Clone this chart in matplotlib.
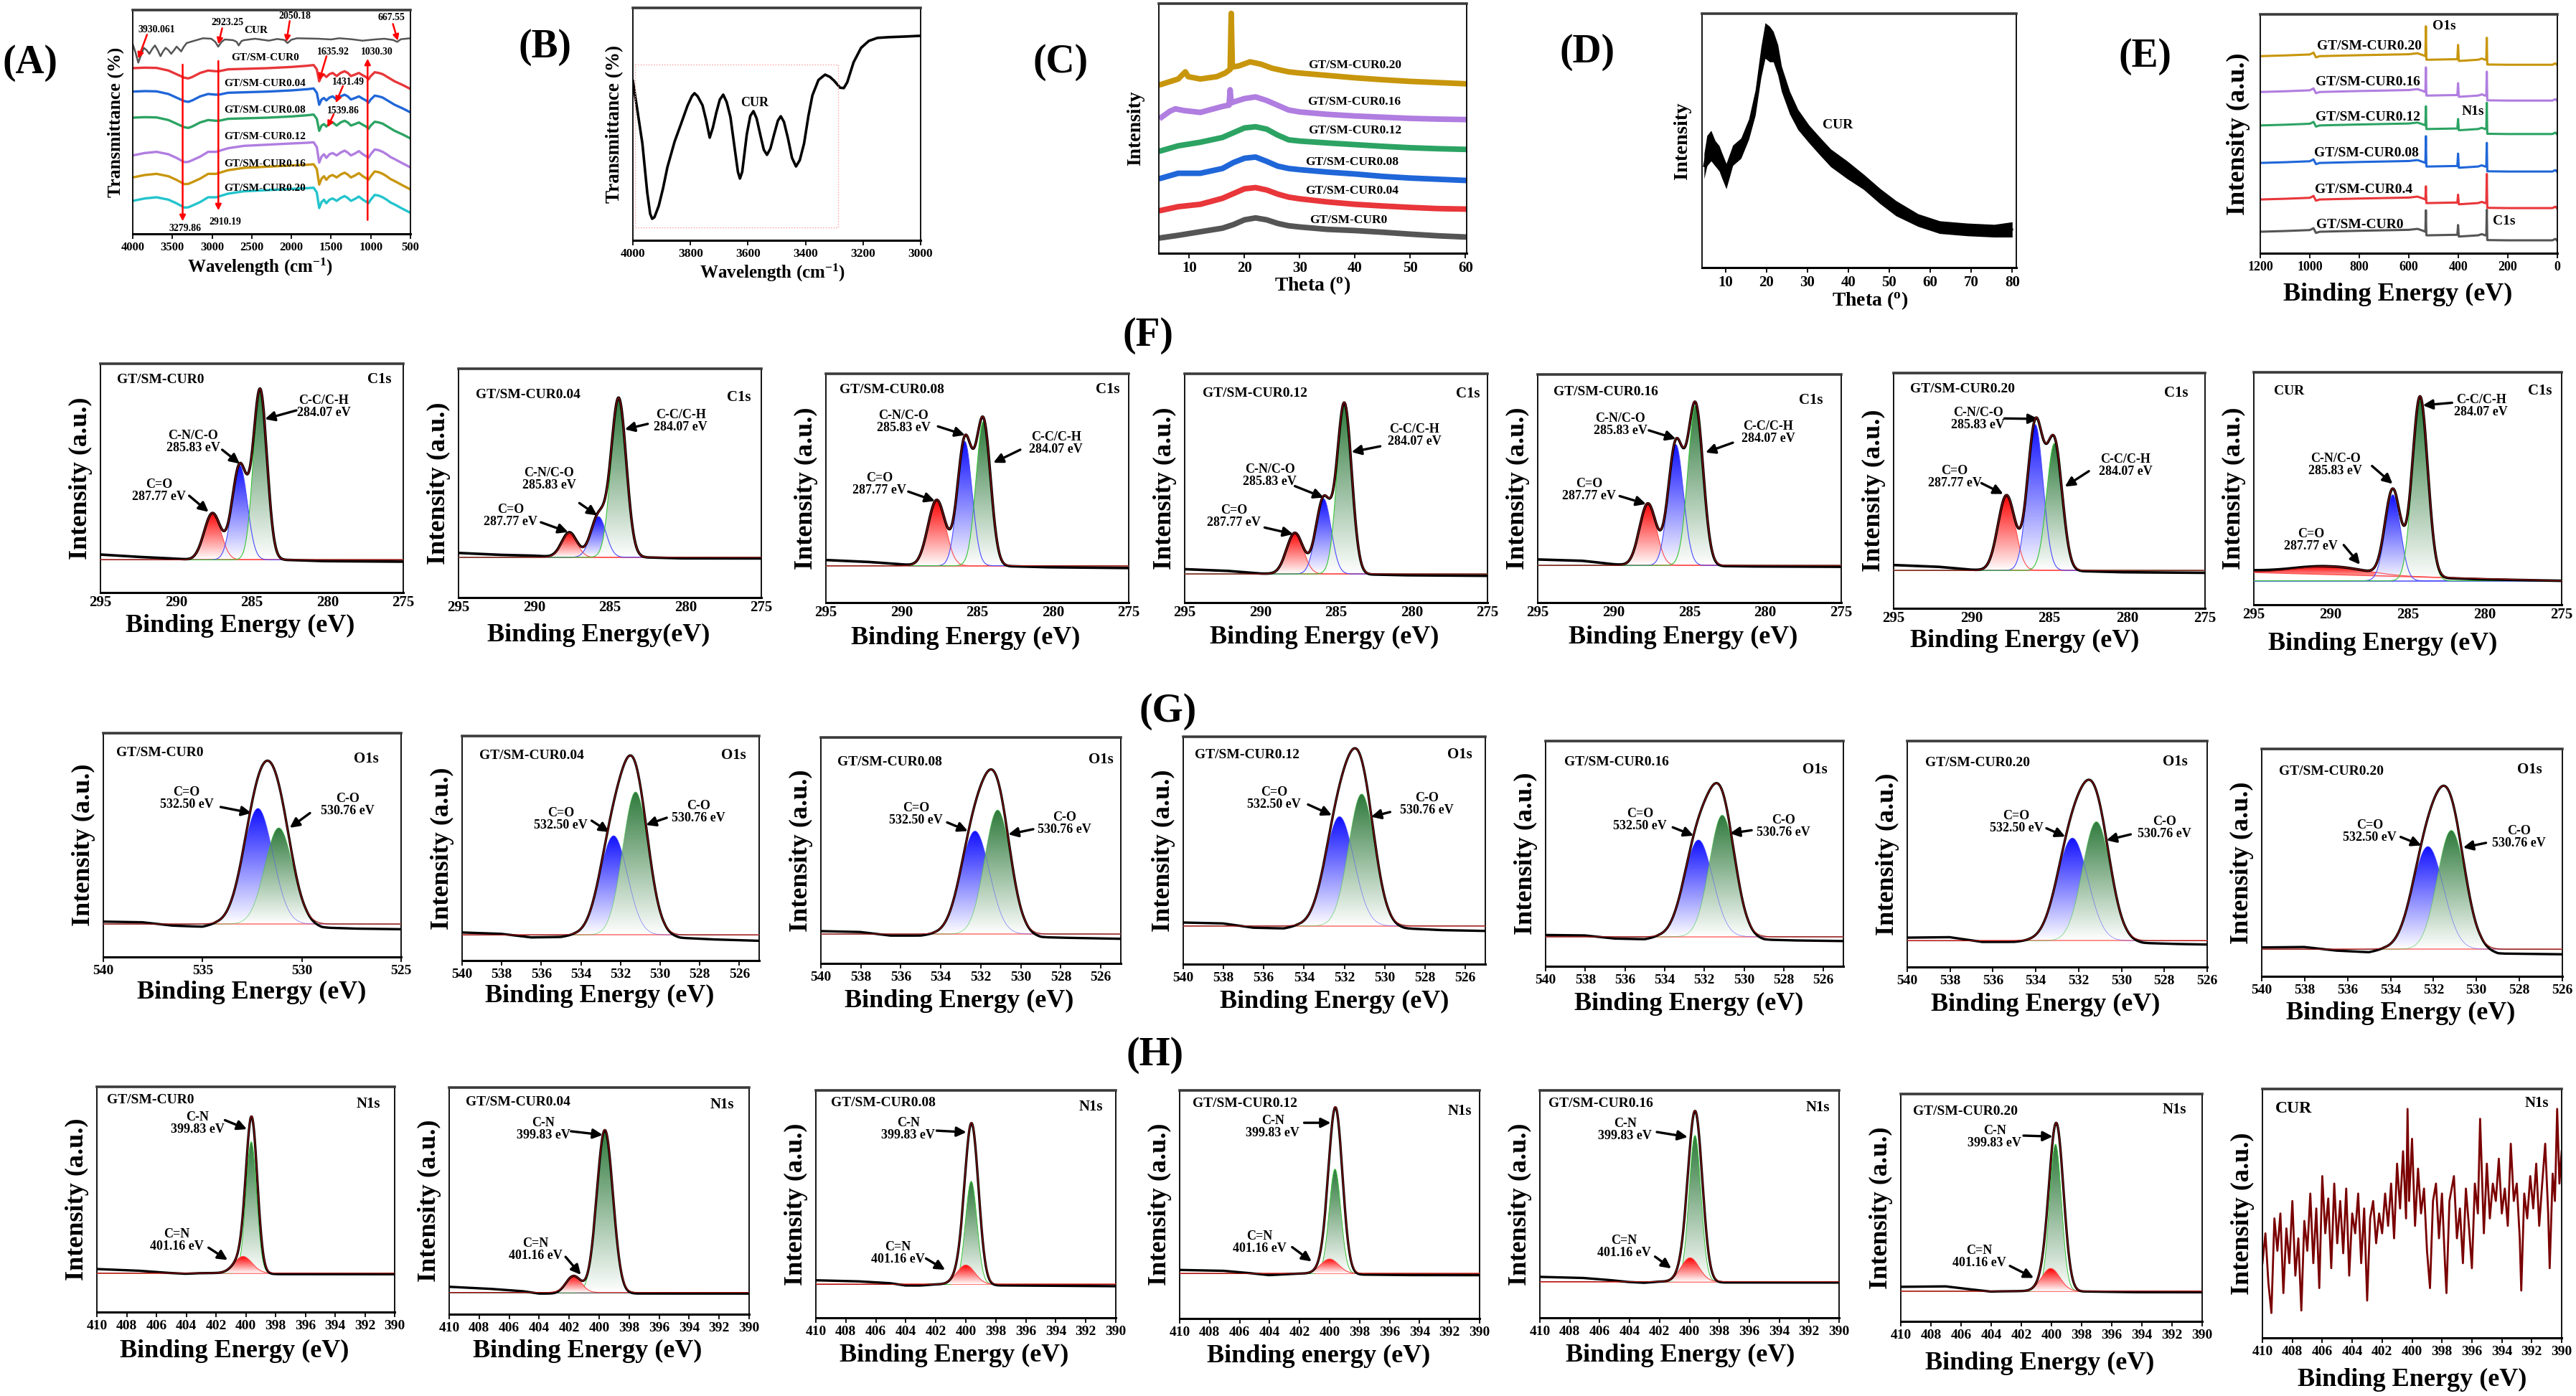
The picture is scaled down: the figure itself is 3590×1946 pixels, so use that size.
import numpy as np
import matplotlib.pyplot as plt
from matplotlib.colors import LinearSegmentedColormap

plt.rcParams['font.family'] = ['Liberation Serif', 'DejaVu Serif']
plt.rcParams['font.weight'] = 'bold'
plt.rcParams['mathtext.fontset'] = 'custom'
plt.rcParams['mathtext.rm'] = 'Liberation Serif:bold'
plt.rcParams['mathtext.it'] = 'Liberation Serif:bold'
plt.rcParams['mathtext.bf'] = 'Liberation Serif:bold'

# ---------------- (A) FTIR ----------------
FT_X = [4000, 3850, 3700, 3550, 3450, 3350, 3300, 3250, 3150, 3050, 2950, 2900, 2800, 2600, 2300,
        2000, 1800, 1720, 1680, 1650, 1620, 1590, 1560, 1520, 1480, 1430, 1380, 1330, 1290, 1250,
        1200, 1150, 1100, 1060, 1030, 1000, 950, 900, 850, 800, 750, 700, 600, 500]
FT_FLAT = [0, 0.2, 0.1, -1.0, -2.5, -4.0, -4.3, -3.7, -2.0, -1.0, -1.3, -1.2, -0.5, -0.3, 0,
           0.5, 1.0, 1.3, -0.5, -5.5, -3.3, -2.7, -3.7, -2.5, -2.0, -3.3, -2.0, -1.3, -2.0, -3.3,
           -2.7, -2.0, -3.0, -3.7, -4.7, -3.3, -1.7, -2.0, -2.5, -3.5, -4.5, -5.5, -7.0, -8.7]
FT_RISE = [0, 1.0, 1.5, 0.5, -1.0, -2.8, -2.7, -2.0, -0.5, 1.5, 1.5, 2.0, 3.0, 4.0, 4.5,
           5.0, 5.3, 5.5, 3.5, -3.0, -0.5, 0.5, -1.0, 0.5, 1.0, 0, 1.2, 2.0, 1.2, 0,
           0.8, 1.8, 0.5, -0.3, -1.0, 0.5, 2.5, 2.2, 1.5, 0.5, -0.7, -1.5, -3.3, -5.0]
FT_SAMPLES = ['GT/SM-CUR0', 'GT/SM-CUR0.04', 'GT/SM-CUR0.08', 'GT/SM-CUR0.12', 'GT/SM-CUR0.16', 'GT/SM-CUR0.20']
FT_START = [71.5, 61.7, 50.8, 35.0, 25.8, 16.0]
FT_KIND = ['flat', 'flat', 'flat', 'rise', 'rise', 'rise']
FT_LABEL_Y = [76, 65, 54, 42.8, 31.6, 21.2]
FT_CUR_X = [4000, 3965, 3930, 3895, 3860, 3825, 3790, 3755, 3720, 3685, 3650, 3618, 3585, 3550, 3515,
            3480, 3447, 3418, 3390, 3355, 3320, 3220, 3115, 3010, 2960, 2923, 2880, 2840, 2735, 2690,
            2665, 2630, 2600, 2458, 2285, 2180, 2090, 2050, 2000, 1930, 1660, 1500, 1400, 1245, 1150,
            1105, 950, 830, 720, 667, 620, 500]
FT_CUR_Y = [81.5, 78, 73.8, 77, 80, 79, 77.5, 79.5, 81, 79, 76.5, 78.5, 80, 79, 77.5,
            79, 80.5, 79.5, 78.5, 80.5, 82, 83, 84, 83.8, 82.5, 80.5, 82.5, 83.5, 83.2, 82.5,
            81, 82.8, 83.2, 83.8, 83, 83.7, 83.3, 82, 83.4, 84, 83.8, 83.5, 84, 83.6, 83.2,
            83, 83.5, 83.8, 83.3, 82.5, 83.6, 84]
FT_NOTES = [('3930.061', (3703, 87.5), (3820, 85.5), (3931, 75.5)),
            ('2923.25', (2803, 90.5), (2873, 88.2), (2921, 81.5)),
            ('2050.18', (1959, 93.2), (2022, 91.2), (2063, 82.5)),
            ('667.55', (742, 92.5), (721, 90), (659, 83)),
            ('1635.92', (1475, 78.2), (1558, 76.5), (1648, 66.5)),
            ('1431.49', (1282, 65.5), (1351, 64), (1441, 57)),
            ('1539.86', (1351, 53.8), (1468, 52.2), (1545, 46.8)),
            ('3279.86', (3343, 4.5), (3371, 73), (3371, 7.5)),
            ('2910.19', (2831, 7.2), (2921, 74.5), (2921, 12)),
            ('1030.30', (922, 78.2), (1040, 8), (1040, 75.5))]

# ---------------- (B) CUR FTIR zoom ----------------
B_X = [4000, 3985, 3967, 3950, 3940, 3933, 3925, 3910, 3895, 3880, 3855, 3833, 3810, 3795, 3786,
       3775, 3758, 3745, 3733, 3722, 3710, 3698, 3686, 3674, 3661, 3645, 3635, 3628, 3620, 3604,
       3592, 3581, 3570, 3556, 3545, 3534, 3522, 3509, 3496, 3486, 3475, 3461, 3447, 3433, 3420,
       3405, 3390, 3376, 3355, 3332, 3315, 3300, 3280, 3267, 3255, 3233, 3207, 3180, 3150, 3112,
       3050, 3000]
B_Y = [70.1, 58, 43.2, 22, 13, 10.8, 11.5, 16.4, 24, 33.0, 44, 51.5, 59.5, 63.5, 64.8,
       63.5, 59.6, 53, 45.7, 50, 56.5, 62, 64.2, 61, 54.6, 40, 31, 28.1, 31, 47.2,
       55, 57.1, 54, 46.3, 40.5, 38.3, 41, 47.2, 53, 54.9, 52.5, 45.4, 37, 33.3, 36,
       43.2, 55, 63.9, 70.5, 72.8, 71.8, 70.1, 67.2, 67.0, 69.5, 78.1, 84.3, 87.3, 88.6, 88.9,
       89.2, 89.5]

# ---------------- (C) XRD composites ----------------
C_X = [5, 8, 12, 16, 18, 20, 22, 24, 26, 28, 30, 35, 40, 45, 50, 55, 60]
C_CUR0 = [6.5, 7.5, 9.0, 10.5, 12.0, 14.0, 14.8, 14.0, 12.5, 11.5, 11.0, 10.0, 9.5, 8.8, 8.0, 7.3, 6.8]
C_CUR004 = [18, 19.5, 20.5, 23, 25, 27, 27.5, 26.5, 24.8, 23.5, 22.8, 21.5, 20.5, 19.8, 19.2, 18.7, 18.5]
C_CUR008 = [31.5, 33.5, 33.5, 35.5, 38, 39.8, 40.3, 38.5, 36.5, 35.5, 35, 34, 33.2, 32.2, 31.5, 31, 30.5]
C_CUR012 = [43, 45, 46.5, 48.5, 50.5, 52.5, 53, 52, 49.5, 47.5, 47, 46.2, 45.5, 44.8, 44.2, 43.8, 43.5]
C16_X = [5, 6.5, 7.5, 9, 12, 16, 17.0, 17.2, 17.4, 17.6, 18.2, 20, 22, 24, 26, 28, 30, 35, 40, 45, 50, 55, 60]
C_CUR016 = [57, 59.5, 60.5, 59.8, 59, 61.5, 62, 62, 68.5, 63, 63.5, 64.8, 65.5, 64, 62, 60, 59.2, 58.2, 57.5, 57, 56.5, 56.2, 56]
C20_X = [5, 8, 9.3, 9.8, 12, 15, 16.5, 17.4, 17.6, 17.8, 19, 21, 23, 25, 28, 30, 35, 40, 45, 50, 55, 60]
C_CUR020 = [70.8, 73, 76, 74, 73, 74, 75.5, 77, 100.5, 78, 78.5, 80.2, 79.2, 77.5, 76, 75.5, 74.5, 73.5, 72.7, 72, 71.5, 71]
C_LABELS = ['GT/SM-CUR0', 'GT/SM-CUR0.04', 'GT/SM-CUR0.08', 'GT/SM-CUR0.12', 'GT/SM-CUR0.16', 'GT/SM-CUR0.20']
C_LABEL_XY = [(38.8, 13.8), (39.5, 26.2), (39.5, 38.2), (40, 51.5), (39.9, 63.5), (40, 78.8)]

# ---------------- (D) XRD CUR ----------------
D_X = [4.8, 5.5, 6.5, 7.5, 8.5, 9.1, 10.2, 11.8, 13.8, 15.7, 17.3, 18.7, 19.7, 20.8, 21.7, 22.8,
       23.7, 25.7, 27.7, 30.4, 33.0, 35.7, 39.7, 43.7, 47.7, 51.6, 57, 62.3, 69, 75.6, 80]
D_Y = [40, 46, 48, 45, 43, 40.4, 36, 44.2, 47, 54.5, 65, 81, 89.4, 88, 87, 81.8,
       74.3, 64.9, 58.3, 52.6, 47.9, 43.2, 38.5, 33.8, 28.2, 23.4, 18.7, 15.9, 15, 14.5, 15]
D_SPREAD = [5, 6, 6, 5, 5, 5, 5, 4, 4, 4, 5, 6, 7, 7, 6, 6,
            5, 4.5, 4, 3.5, 3.5, 3.5, 3.5, 3, 3, 3, 2.5, 2.5, 2.5, 2.5, 3]

# ---------------- (E) XPS survey ----------------
E_X = [1200, 1100, 1000, 990, 985, 975, 960, 800, 600, 565, 545, 533, 531, 529, 520, 420, 404, 401,
       398, 395, 320, 305, 292, 287, 285, 283, 280, 200, 20, 8, 0]
E_SHAPE = [0, 0.3, 0.7, 1.2, 1.5, -0.5, 0, 0.4, 0.8, 1.2, 0.5, 0, 0, -1.5, -1.5, -1.3, -1.3, 0,
           -2.0, -2.0, -1.5, -1.0, -1.5, -1.5, 0, -3.5, -3.5, -3.6, -3.6, -3.0, -3.8]
E_SAMPLES = ['GT/SM-CUR0', 'GT/SM-CUR0.4', 'GT/SM-CUR0.08', 'GT/SM-CUR0.12', 'GT/SM-CUR0.16', 'GT/SM-CUR0.20']
E_BASE = [9.0, 22.5, 37.8, 53.5, 67.5, 82.5]
E_O1S = [18, 28, 49, 61.5, 77.8, 95]
E_N1S = [11.8, 24.5, 41.7, 56.2, 71.2, 87.2]
E_C1S = [18.2, 33.2, 46.2, 63, 76, 90.2]
E_LABEL_XY = [(798, 12), (781, 26.5), (770, 42), (765, 57), (765, 71.5), (759, 86.5)]
E_CORE = [('O1s', 457, 95), ('N1s', 342, 59.2), ('C1s', 214, 13.3)]

# ---------------- (F) C1s ----------------
C1S_NAMES = ['GT/SM-CUR0', 'GT/SM-CUR0.04', 'GT/SM-CUR0.08', 'GT/SM-CUR0.12', 'GT/SM-CUR0.16', 'GT/SM-CUR0.20', 'CUR']
C1S_BASE = [14.3, 17.6, 16.1, 12.5, 16.3, 16.1, 10.3]
C1S_CENTERS = [[287.6, 285.8, 284.45], [287.68, 285.76, 284.42], [287.68, 285.83, 284.6], [287.72, 285.83, 284.45],
               [287.74, 285.9, 284.6], [287.75, 285.9, 284.67], [290.0, 285.97, 284.2]]
C1S_HEIGHTS = [[20.4, 41.3, 73.7], [10.7, 17.8, 69.2], [28.8, 54.4, 63], [18, 32.9, 74.3],
               [27.2, 53, 70], [32, 62, 54], [3.5, 37, 77.7]]
C1S_SIGMAS = [[0.55, 0.5, 0.45], [0.5, 0.5, 0.5], [0.58, 0.48, 0.48], [0.55, 0.5, 0.48],
              [0.55, 0.5, 0.5], [0.55, 0.5, 0.5], [2.2, 0.5, 0.5]]
CUR_C1S_RED_BL = [13.9, 10.3]          # sloped background under the broad C=O of CUR, at 295 and 275 eV
C1S_DRIFT_X = [295, 292, 290, 289, 283, 280, 275]
C1S_DRIFT = [[2.3, 1.1, 0.5, 0, 0, -0.6, -0.8], [1.9, 1.0, 0.7, 0.3, 0, -0.5, -0.5],
             [2.5, 1.6, 0.6, 0, -0.2, -0.7, -1.0], [2.1, 1.3, 0.2, 0, -0.2, -0.6, -0.8],
             [2.6, 2.0, 0.5, 0, -0.3, -0.5, -0.6], [2.3, 1.5, 0.3, 0, -0.3, -0.8, -1.0],
             [0.7, 0.4, 0, 0, -0.2, -0.3, 0]]
C1S_TEXT = ['C=O\n287.77 eV', 'C-N/C-O\n285.83 eV', 'C-C/C-H\n284.07 eV']

# ---------------- (G) O1s ----------------
O1S_NAMES = ['GT/SM-CUR0', 'GT/SM-CUR0.04', 'GT/SM-CUR0.08', 'GT/SM-CUR0.12', 'GT/SM-CUR0.16', 'GT/SM-CUR0.20', 'GT/SM-CUR0.20']
O1S_BASE = [14.7, 11.4, 13.0, 16.8, 13.1, 11.6, 11.9]
O1S_CENTERS = [[532.21, 531.16], [532.35, 531.24], [532.29, 531.16], [532.24, 531.14],
               [532.3, 531.1], [532.29, 531.17], [532.26, 531.17]]
O1S_HEIGHTS = [[51.7, 43], [44.2, 63.7], [45.6, 54.9], [48.1, 58], [43, 54], [45.5, 52.7], [45.2, 52.3]]
O1S_SIGMAS = [[0.75, 0.7], [0.7, 0.65], [0.72, 0.65], [0.72, 0.65], [0.72, 0.65], [0.72, 0.65], [0.72, 0.65]]
O1S_XMIN = [525, 525, 525, 525, 525, 526, 526]
O1S_DRIFT_X = [540, 538, 536.5, 535, 534.3, 529.8, 529, 527, 525]
O1S_DRIFT = [[1.1, 0.8, -0.7, -1.2, 0, 0, -1.6, -2.1, -2.3], [1.1, 0.5, -1.1, -0.9, 0, 0, -1.3, -2.1, -2.6],
             [1.3, 0.9, -0.7, -0.7, 0, 0, -1.4, -1.8, -2.1], [1.5, 1.1, -0.8, -1.1, 0, 0, -1.1, -1.9, -2.2],
             [0.8, 0.6, -0.8, -1.1, 0, 0, -1.3, -1.7, -1.9], [1.4, 1.6, -0.5, -0.5, 0, 0, -1.0, -1.5, -1.8],
             [0.8, 1.0, -0.6, -1.3, 0, 0, -1.9, -2.1, -2.3]]
O1S_TEXT = ['C=O\n532.50 eV', 'C-O\n530.76 eV']

# ---------------- (H) N1s ----------------
N1S_NAMES = ['GT/SM-CUR0', 'GT/SM-CUR0.04', 'GT/SM-CUR0.08', 'GT/SM-CUR0.12', 'GT/SM-CUR0.16', 'GT/SM-CUR0.20', 'CUR']
N1S_BASE = [17.3, 9.6, 14.7, 19.7, 15.9, 13.3]
N1S_GREEN = [(399.63, 58.3, 0.36), (399.62, 71.9, 0.54), (399.64, 45.3, 0.39), (399.64, 45.8, 0.39),
             (399.63, 64.3, 0.40), (399.73, 64.6, 0.40)]
N1S_RED = [(400.18, 7.4, 0.6), (401.7, 7.3, 0.5), (400.0, 8.5, 0.6), (400.0, 6.4, 0.6),
           (399.96, 10.5, 0.6), (400.05, 10.0, 0.6)]
N1S_ENV = [(399.6, 65.1, 0.38), (399.62, 71.9, 0.54), (399.6, 64.3, 0.455), (399.6, 68.0, 0.46),
           (399.6, 66.4, 0.47), (399.66, 65.9, 0.47)]
N1S_DRIFT_X = [410, 407, 405, 404, 403, 402, 397.5, 394, 390]
N1S_DRIFT = [[1.8, 1.0, 0, -0.3, 0, 0, -0.5, -0.5, -0.5], [2.5, 1.5, 0.5, -0.5, -0.5, 0, -0.5, -0.5, -0.5],
             [1.8, 1.3, 0.5, -0.5, -0.5, 0, -0.5, -0.6, -0.8], [1.6, 1.2, 0, -0.7, -0.3, 0, -0.5, -0.7, -0.7],
             [2.1, 1.6, 0.5, -0.2, -0.5, 0, -0.4, -0.4, -0.4], [1.9, 2.1, 0.5, -0.2, 0, 0, -0.2, -0.5, -0.5]]
N1S_TEXT = ['C-N\n399.83 eV', 'C=N\n401.16 eV']
N1S_CUR_X = [410.0, 409.8, 409.6, 409.4, 409.2, 409.0, 408.8, 408.6, 408.4, 408.2,
             408.0, 407.8, 407.6, 407.4, 407.2, 407.0, 406.8, 406.6, 406.4, 406.2,
             406.0, 405.8, 405.6, 405.4, 405.2, 405.0, 404.8, 404.6, 404.4, 404.2,
             404.0, 403.8, 403.6, 403.4, 403.2, 403.0, 402.8, 402.6, 402.4, 402.2,
             402.0, 401.8, 401.6, 401.4, 401.2, 401.0, 400.8, 400.6, 400.4, 400.3,
             400.2, 400.0, 399.8, 399.6, 399.4, 399.2, 399.0, 398.8, 398.6, 398.4,
             398.2, 398.0, 397.8, 397.7, 397.5, 397.2, 397.0, 396.8, 396.6, 396.4,
             396.2, 396.0, 395.8, 395.6, 395.45, 395.2, 395.0, 394.8, 394.6, 394.4,
             394.2, 394.0, 393.8, 393.6, 393.4, 393.2, 393.0, 392.8, 392.7, 392.5,
             392.3, 392.1, 391.9, 391.7, 391.5, 391.3, 391.1, 390.9, 390.8, 390.6,
             390.45, 390.3, 390.15, 390.0]
N1S_CUR_Y = [30, 42, 22, 10, 48, 35, 50, 18, 44, 30,
             55, 25, 40, 11, 47, 35, 58, 30, 52, 20,
             65, 42, 56, 28, 62, 38, 55, 34, 60, 25,
             50, 42, 58, 30, 52, 15, 48, 55, 38, 50,
             42, 58, 45, 62, 40, 70, 52, 75, 48, 92,
             55, 80, 45, 68, 50, 60, 35, 20, 55, 62,
             40, 58, 30, 18, 55, 65, 40, 52, 30, 60,
             45, 28, 62, 50, 88, 42, 70, 48, 62, 55,
             72, 50, 60, 45, 78, 55, 62, 40, 19, 58,
             48, 65, 52, 70, 45, 62, 78, 50, 28, 66,
             55, 92, 62, 75]

# ---------------- layout (pixel boxes: left, top, right, bottom) ----------------
W, H = 3591, 1946
TOP_BOX = {'A': (185, 14, 572, 326), 'B': (882, 11, 1283, 335), 'C': (1615, 5, 2044, 353),
           'D': (2372, 19, 2810, 373), 'E': (3150, 20, 3564, 353)}
F_BOX = [(140, 507, 562, 826), (639, 514, 1061, 833), (1151, 521, 1573, 840), (1651, 521, 2073, 840),
         (2143, 522, 2566, 840), (2639, 520, 3073, 848), (3141, 519, 3570, 843)]
G_BOX = [(144, 1022, 559, 1334), (644, 1026, 1058, 1339), (1144, 1028, 1562, 1343), (1649, 1027, 2070, 1344),
         (2154, 1033, 2569, 1347), (2658, 1033, 3076, 1348), (3152, 1044, 3571, 1361)]
H_BOX = [(135, 1515, 550, 1829), (626, 1516, 1044, 1832), (1137, 1520, 1555, 1837), (1644, 1520, 2062, 1838),
         (2146, 1520, 2563, 1837), (2649, 1525, 3069, 1842), (3153, 1518, 3570, 1865)]
PANEL_TAGS = [('(A)', 42, 88), ('(B)', 760, 66), ('(C)', 1478, 87), ('(D)', 2212, 73), ('(E)', 2990, 79),
              ('(F)', 1600, 468), ('(G)', 1628, 992), ('(H)', 1610, 1471)]

F_XLAB = [(0.462, 46), (0.462, 52), (0.462, 49), (0.462, 48), (0.48, 48), (0.42, 45), (0.42, 54)]
G_XLAB = [(0.497, 49), (0.464, 49), (0.462, 52), (0.50, 52), (0.48, 52), (0.462, 52), (0.463, 51)]
H_XLAB = [(0.462, 54), (0.462, 51), (0.462, 52), (0.464, 52), (0.47, 52), (0.462, 58), (0.50, 58)]
F_NAME_XY = [(0.054, 0.929), (0.058, 0.886), (0.045, 0.931), (0.059, 0.913), (0.053, 0.923), (0.053, 0.931), (0.065, 0.918)]
F_CORE_XY = [(0.96, 0.932), (0.966, 0.874), (0.970, 0.931), (0.974, 0.913), (0.940, 0.887), (0.946, 0.914), (0.968, 0.921)]
G_NAME_XY = [(0.044, 0.912), (0.057, 0.913), (0.054, 0.891), (0.039, 0.920), (0.062, 0.905), (0.06, 0.903), (0.058, 0.902)]
G_CORE_XY = [(0.924, 0.886), (0.957, 0.913), (0.976, 0.900), (0.957, 0.920), (0.946, 0.874), (0.936, 0.907), (0.933, 0.907)]
H_NAME_XY = [(0.033, 0.942), (0.055, 0.935), (0.05, 0.945), (0.042, 0.942), (0.028, 0.943), (0.04, 0.923), (0.044, 0.921)]
H_CORE_XY = [(0.952, 0.923), (0.949, 0.925), (0.958, 0.926), (0.974, 0.910), (0.97, 0.924), (0.948, 0.932), (0.958, 0.943)]
# note positions: (text centre, arrow tail, arrow tip) in axes fractions, same order as *_TEXT
F_NOTE_POS = [
    [((0.194, 0.444), (0.293, 0.423), (0.357, 0.352)), ((0.306, 0.657), (0.402, 0.624), (0.46, 0.563)), ((0.737, 0.813), (0.647, 0.796), (0.543, 0.758))],
    [((0.172, 0.356), (0.272, 0.329), (0.362, 0.286)), ((0.299, 0.516), (0.399, 0.413), (0.458, 0.359)), ((0.734, 0.771), (0.625, 0.759), (0.549, 0.735))],
    [((0.177, 0.518), (0.272, 0.485), (0.360, 0.444)), ((0.256, 0.789), (0.370, 0.770), (0.459, 0.732)), ((0.760, 0.697), (0.642, 0.668), (0.553, 0.611))],
    [((0.163, 0.376), (0.264, 0.328), (0.358, 0.299)), ((0.281, 0.555), (0.364, 0.509), (0.459, 0.459)), ((0.758, 0.729), (0.646, 0.683), (0.551, 0.658))],
    [((0.170, 0.494), (0.270, 0.467), (0.357, 0.432)), ((0.272, 0.780), (0.366, 0.755), (0.455, 0.718)), ((0.760, 0.745), (0.643, 0.701), (0.553, 0.658))],
    [((0.196, 0.557), (0.282, 0.532), (0.352, 0.486)), ((0.271, 0.805), (0.356, 0.807), (0.464, 0.805)), ((0.744, 0.606), (0.627, 0.583), (0.550, 0.517))],
    [((0.186, 0.278), (0.292, 0.257), (0.345, 0.173)), ((0.265, 0.602), (0.384, 0.597), (0.451, 0.520)), ((0.738, 0.856), (0.644, 0.869), (0.549, 0.858))]]
G_NOTE_POS = [
    [((0.28, 0.707), (0.394, 0.670), (0.497, 0.643)), ((0.82, 0.68), (0.694, 0.643), (0.626, 0.577))],
    [((0.333, 0.630), (0.436, 0.623), (0.495, 0.572)), ((0.795, 0.662), (0.689, 0.636), (0.619, 0.604))],
    [((0.317, 0.661), (0.421, 0.624), (0.49, 0.586)), ((0.813, 0.618), (0.708, 0.594), (0.625, 0.571))],
    [((0.301, 0.728), (0.413, 0.702), (0.492, 0.655)), ((0.807, 0.705), (0.685, 0.669), (0.622, 0.648))],
    [((0.317, 0.649), (0.427, 0.617), (0.497, 0.580)), ((0.798, 0.622), (0.692, 0.604), (0.619, 0.590))],
    [((0.364, 0.640), (0.464, 0.614), (0.527, 0.577)), ((0.858, 0.616), (0.745, 0.587), (0.664, 0.561))],
    [((0.359, 0.636), (0.462, 0.613), (0.531, 0.576)), ((0.855, 0.613), (0.746, 0.587), (0.670, 0.566))]]
H_NOTE_POS = [
    [((0.338, 0.836), (0.430, 0.852), (0.504, 0.812)), ((0.268, 0.318), (0.375, 0.286), (0.439, 0.231))],
    [((0.314, 0.815), (0.406, 0.807), (0.512, 0.791)), ((0.287, 0.285), (0.388, 0.253), (0.439, 0.174))],
    [((0.308, 0.829), (0.403, 0.823), (0.502, 0.816)), ((0.274, 0.284), (0.367, 0.261), (0.431, 0.211))],
    [((0.31, 0.841), (0.415, 0.858), (0.504, 0.858)), ((0.266, 0.334), (0.375, 0.313), (0.44, 0.250))],
    [((0.285, 0.826), (0.391, 0.817), (0.494, 0.795)), ((0.282, 0.311), (0.385, 0.269), (0.439, 0.217))],
    [((0.311, 0.811), (0.407, 0.817), (0.504, 0.813)), ((0.260, 0.283), (0.362, 0.244), (0.441, 0.191))]]

SAMPLE_COLORS = ['#555555', '#e8363a', '#1f66d8', '#2ca363', '#b07de0', '#c8960c']
FT_COLORS = ['#e8363a', '#1f66d8', '#2ca363', '#b07de0', '#c8960c', '#22c4cc']

fig = plt.figure(figsize=(W / 100, H / 100), dpi=100)


def box(l, t, r, b):
    ax = fig.add_axes([l / W, 1 - b / H, (r - l) / W, (b - t) / H])
    ax.w_px, ax.h_px = r - l, b - t
    return ax


def style(ax, tsize, tlen=5):
    ax.set_yticks([])
    for s in ax.spines.values():
        s.set_linewidth(1.3)
    ax.spines['top'].set_linewidth(2.6)
    ax.spines['top'].set_color('#3a3a3a')
    ax.spines['bottom'].set_linewidth(2.2)
    ax.tick_params(axis='x', labelsize=tsize, length=tlen, width=1.3, pad=3)


def labels(ax, xl, yl, fx, dy, dx, fsx, fsy, fy=0.5):
    ax.text(fx, -dy / ax.h_px, xl, transform=ax.transAxes, ha='center', va='center', fontsize=fsx)
    ax.text(-dx / ax.w_px, fy, yl, transform=ax.transAxes, ha='center', va='center', rotation=90, fontsize=fsy)


def gauss(x, c, h, s):
    return h * np.exp(-(x - c) ** 2 / (2 * s * s))


def grad_fill(ax, x, lower, upper, color, z=2):
    cmap = LinearSegmentedColormap.from_list('g', ['white', color])
    poly = ax.fill_between(x, lower, upper, facecolor='none', edgecolor='none')
    img = ax.imshow(np.linspace(0, 1, 256).reshape(-1, 1), cmap=cmap, aspect='auto', origin='lower',
                    extent=[x.min(), x.max(), lower.min(), upper.max()], zorder=z)
    img.set_clip_path(poly.get_paths()[0], transform=ax.transData)


def note(ax, text, txy, tail, tip, fs=13):
    ax.text(txy[0], txy[1], text, transform=ax.transAxes, ha='center', va='center', fontsize=fs, linespacing=1.0)
    ax.annotate('', xy=tip, xytext=tail, xycoords='axes fraction', textcoords='axes fraction',
                arrowprops=dict(arrowstyle='-|>', color='k', lw=2.4, mutation_scale=20, shrinkA=0, shrinkB=0))


def drift(x, dx, dy):
    return np.interp(x, dx[::-1], dy[::-1])


# ---------------- (A) ----------------
ax = box(*TOP_BOX['A'])
style(ax, 12)
ax.plot(FT_CUR_X, FT_CUR_Y, color='#555555', lw=1.8)
ax.text(2444, 87.3, 'CUR', ha='center', va='center', fontsize=11)
for i, name in enumerate(FT_SAMPLES):
    shape = FT_FLAT if FT_KIND[i] == 'flat' else FT_RISE
    ax.plot(FT_X, FT_START[i] + np.array(shape), color=FT_COLORS[i], lw=2.4)
    ax.text(2333, FT_LABEL_Y[i], name, ha='center', va='center', fontsize=11)
for txt, txy, tail, tip in FT_NOTES:
    ax.annotate('', xy=tip, xytext=tail,
                arrowprops=dict(arrowstyle='-|>', color='red', lw=1.8, mutation_scale=12, shrinkA=0, shrinkB=0))
    ax.text(txy[0], txy[1], txt, ha='center', va='center', fontsize=10)
ax.set_xlim(4000, 500)
ax.set_ylim(2.2, 95.8)
ax.set_xticks([4000, 3500, 3000, 2500, 2000, 1500, 1000, 500])
labels(ax, 'Wavelength (cm$^{-1}$)', 'Transmittance (%)', 0.46, 46, 24, 18, 18.5)

# ---------------- (B) ----------------
ax = box(*TOP_BOX['B'])
style(ax, 12.5)
ax.plot(B_X, B_Y, color='k', lw=2.6)
ax.plot([3993, 3287, 3287, 3993, 3993], [77.2, 77.2, 7.1, 7.1, 77.2], color='#ff9a9a', lw=1.0, ls=':')
ax.text(3576, 60.5, 'CUR', ha='center', va='center', fontsize=13)
ax.set_xlim(4000, 3000)
ax.set_ylim(1.54, 101.5)
ax.set_xticks([4000, 3800, 3600, 3400, 3200, 3000])
labels(ax, 'Wavelength (cm$^{-1}$)', 'Transmittance (%)', 0.486, 45, 25, 18, 19.5)

# ---------------- (C) ----------------
ax = box(*TOP_BOX['C'])
style(ax, 15)
c_series = [(C_X, C_CUR0), (C_X, C_CUR004), (C_X, C_CUR008), (C_X, C_CUR012), (C16_X, C_CUR016), (C20_X, C_CUR020)]
for i, (xs, ys) in enumerate(c_series):
    ax.plot(xs, ys, color=SAMPLE_COLORS[i], lw=5.6, solid_joinstyle='round')
    ax.text(C_LABEL_XY[i][0], C_LABEL_XY[i][1], C_LABELS[i], ha='center', va='center', fontsize=12.5)
ax.set_xlim(4.5, 60.2)
ax.set_ylim(0, 104.6)
ax.set_xticks([10, 20, 30, 40, 50, 60])
labels(ax, 'Theta ($^{\\rm o}$)', 'Intensity', 0.5, 45, 32, 20, 20)

# ---------------- (D) ----------------
ax = box(*TOP_BOX['D'])
style(ax, 15)
dy = np.array(D_Y)
ds = np.array(D_SPREAD)
ax.fill_between(D_X, dy - ds, dy + ds, color='k', lw=0)
ax.plot(D_X, D_Y, color='k', lw=2)
ax.text(37.4, 56.2, 'CUR', ha='center', va='center', fontsize=14)
ax.set_xlim(4.3, 81)
ax.set_ylim(0, 100)
ax.set_xticks([10, 20, 30, 40, 50, 60, 70, 80])
labels(ax, 'Theta ($^{\\rm o}$)', 'Intensity', 0.534, 46, 27, 20, 20.5)

# ---------------- (E) ----------------
ax = box(*TOP_BOX['E'])
style(ax, 13)
spike_idx = [E_X.index(531), E_X.index(401), E_X.index(285)]
for i, name in enumerate(E_SAMPLES):
    ys = E_BASE[i] + np.array(E_SHAPE, dtype=float)
    for k, top in zip(spike_idx, [E_O1S[i], E_N1S[i], E_C1S[i]]):
        ys[k] = top
    ax.plot(E_X, ys, color=SAMPLE_COLORS[i], lw=2.2)
    ax.text(E_LABEL_XY[i][0], E_LABEL_XY[i][1], name, ha='center', va='center', fontsize=14)
for t, xx, yy in E_CORE:
    ax.text(xx, yy, t, ha='center', va='center', fontsize=14)
ax.set_xlim(1200, 0)
ax.set_ylim(0, 100)
ax.set_xticks([1200, 1000, 800, 600, 400, 200, 0])
labels(ax, 'Binding Energy (eV)', 'Intensity (a.u.)', 0.464, 57, 31, 26, 26)

# ---------------- (F) C1s ----------------
C1S_FILL = ['#ff0000', '#1010ff', '#2f7a3c']
C1S_EDGE = ['#ff4a4a', '#4a4aff', '#36c436']
for i in range(7):
    ax = box(*F_BOX[i])
    style(ax, 15, tlen=0)
    x = np.linspace(275, 295, 900)
    bl = np.full_like(x, C1S_BASE[i])
    peaks = [gauss(x, c, h, s) for c, h, s in zip(C1S_CENTERS[i], C1S_HEIGHTS[i], C1S_SIGMAS[i])]
    lows = [bl, bl, bl]
    if i == 6:
        lows[0] = np.interp(x, [275, 295], CUR_C1S_RED_BL[::-1])
        ax.plot(x, bl, color='#5a5aff', lw=1.2, zorder=3)
        ax.plot(x, lows[0], color='#ff5a5a', lw=1.2, zorder=3)
    else:
        ax.plot(x, bl, color='#ff5a5a', lw=1.2, zorder=3)
    for p, lo, fc, ec in zip(peaks, lows, C1S_FILL, C1S_EDGE):
        grad_fill(ax, x, lo, lo + p, fc)
        ax.plot(x, lo + p, color=ec, lw=0.8, zorder=3)
    env = lows[0] + sum(peaks)
    raw = env + drift(x, C1S_DRIFT_X, C1S_DRIFT[i])
    ax.plot(x, raw, color='k', lw=2.6, zorder=4)
    ax.plot(x, env, color='#a01010', lw=0.8, zorder=5)
    ax.text(*F_NAME_XY[i], C1S_NAMES[i], transform=ax.transAxes, ha='left', va='center', fontsize=14)
    ax.text(*F_CORE_XY[i], 'C1s', transform=ax.transAxes, ha='right', va='center', fontsize=15)
    for t, (txy, tail, tip) in zip(C1S_TEXT, F_NOTE_POS[i]):
        note(ax, t, txy, tail, tip)
    ax.set_xlim(295, 275)
    ax.set_ylim(0, 100)
    ax.set_xticks([295, 290, 285, 280, 275])
    xl = 'Binding Energy(eV)' if i == 1 else 'Binding Energy (eV)'
    labels(ax, xl, 'Intensity (a.u.)', F_XLAB[i][0], F_XLAB[i][1], 28, 26, 26)

# ---------------- (G) O1s ----------------
O1S_FILL = ['#1010ff', '#2f7a3c']
O1S_EDGE = ['#4a4aff', '#36c436']
for i in range(7):
    ax = box(*G_BOX[i])
    style(ax, 14)
    x = np.linspace(O1S_XMIN[i], 540, 900)
    bl = np.full_like(x, O1S_BASE[i])
    ax.plot(x, bl, color='#ff7a7a', lw=1.2, zorder=3)
    peaks = [gauss(x, c, h, s) for c, h, s in zip(O1S_CENTERS[i], O1S_HEIGHTS[i], O1S_SIGMAS[i])]
    for p, fc, ec in zip(peaks, O1S_FILL, O1S_EDGE):
        grad_fill(ax, x, bl, bl + p, fc)
        ax.plot(x, bl + p, color=ec, lw=0.6, zorder=3, alpha=0.6)
    env = bl + sum(peaks)
    raw = env + drift(x, O1S_DRIFT_X, O1S_DRIFT[i])
    ax.plot(x, raw, color='k', lw=2.4, zorder=4)
    ax.plot(x, env, color='#a01010', lw=0.8, zorder=5)
    ax.text(*G_NAME_XY[i], O1S_NAMES[i], transform=ax.transAxes, ha='left', va='center', fontsize=14)
    ax.text(*G_CORE_XY[i], 'O1s', transform=ax.transAxes, ha='right', va='center', fontsize=15)
    for t, (txy, tail, tip) in zip(O1S_TEXT, G_NOTE_POS[i]):
        note(ax, t, txy, tail, tip)
    ax.set_xlim(540, O1S_XMIN[i])
    ax.set_ylim(0, 100)
    ax.set_xticks([540, 535, 530, 525] if i == 0 else [540, 538, 536, 534, 532, 530, 528, 526])
    labels(ax, 'Binding Energy (eV)', 'Intensity (a.u.)', G_XLAB[i][0], G_XLAB[i][1], 28, 26, 26)

# ---------------- (H) N1s ----------------
for i in range(7):
    ax = box(*H_BOX[i])
    style(ax, 14)
    if i < 6:
        x = np.linspace(390, 410, 900)
        bl = np.full_like(x, N1S_BASE[i])
        ax.plot(x, bl, color='#ff5a5a' if i != 1 else '#333333', lw=1.2, zorder=3)
        green = gauss(x, *N1S_GREEN[i])
        red = gauss(x, *N1S_RED[i])
        grad_fill(ax, x, bl, bl + green, '#2f7a3c')
        ax.plot(x, bl + green, color='#36c436', lw=0.7, zorder=3)
        grad_fill(ax, x, bl, bl + red, '#ff0000', z=3)
        ax.plot(x, bl + red, color='#ff4a4a', lw=0.8, zorder=3)
        env = bl + gauss(x, *N1S_ENV[i]) + red
        raw = env + drift(x, N1S_DRIFT_X, N1S_DRIFT[i])
        ax.plot(x, raw, color='k', lw=2.4, zorder=4)
        ax.plot(x, env, color='#a01010', lw=0.8, zorder=5)
        for t, (txy, tail, tip) in zip(N1S_TEXT, H_NOTE_POS[i]):
            note(ax, t, txy, tail, tip)
    else:
        ax.plot(N1S_CUR_X, N1S_CUR_Y, color='#7a0000', lw=2.0)
    ax.text(*H_NAME_XY[i], N1S_NAMES[i], transform=ax.transAxes, ha='left', va='center',
            fontsize=14 if i < 6 else 17)
    ax.text(*H_CORE_XY[i], 'N1s', transform=ax.transAxes, ha='right', va='center', fontsize=15)
    ax.set_xlim(410, 390)
    ax.set_ylim(0, 100)
    ax.set_xticks(list(range(410, 389, -2)))
    xl = 'Binding energy (eV)' if i == 3 else 'Binding Energy (eV)'
    labels(ax, xl, 'Intensity (a.u.)', H_XLAB[i][0], H_XLAB[i][1], 28, 26, 26)

for t, px, py in PANEL_TAGS:
    fig.text(px / W, 1 - py / H, t, ha='center', va='center', fontsize=40)

fig.savefig('out.png', dpi=100)
